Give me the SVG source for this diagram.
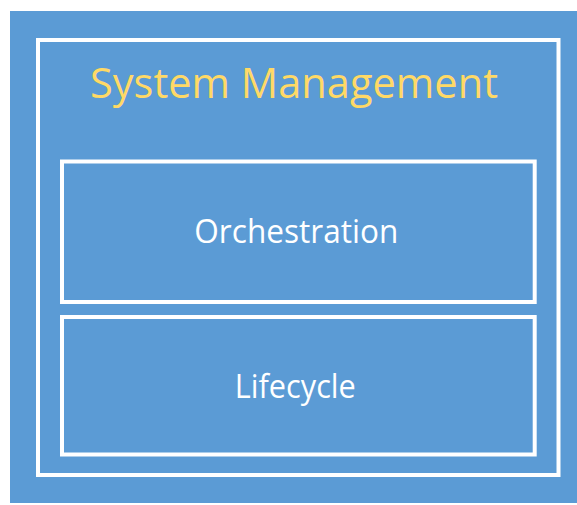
<svg xmlns="http://www.w3.org/2000/svg" width="577" height="505" viewBox="0 0 577 505">
<style>
.frame{fill:none;stroke:#ffffff;stroke-width:4}
.lbl{font-family:"Open Sans","Noto Sans","Liberation Sans",sans-serif;fill:#ffffff}
.title{font-family:"Open Sans","Noto Sans","Liberation Sans",sans-serif;fill:#ffd966}
</style>
<rect x="10" y="11" width="567" height="492" fill="#5b9bd5"/>
<g id="system-management">
<rect class="frame" x="38" y="40" width="520.5" height="435"/>
<text class="title" x="294" y="98.3" font-size="42" text-anchor="middle" textLength="408" lengthAdjust="spacingAndGlyphs">System Management</text>
</g>
<g id="orchestration">
<rect class="frame" x="62" y="161.5" width="472.7" height="140.5"/>
<text class="lbl" x="296.3" y="243.3" font-size="32" text-anchor="middle" textLength="204" lengthAdjust="spacingAndGlyphs">Orchestration</text>
</g>
<g id="lifecycle">
<rect class="frame" x="62" y="317" width="472.7" height="137.5"/>
<text class="lbl" x="295.3" y="398.3" font-size="32" text-anchor="middle" textLength="121" lengthAdjust="spacingAndGlyphs">Lifecycle</text>
</g>
<g id="connectors"/>
</svg>
